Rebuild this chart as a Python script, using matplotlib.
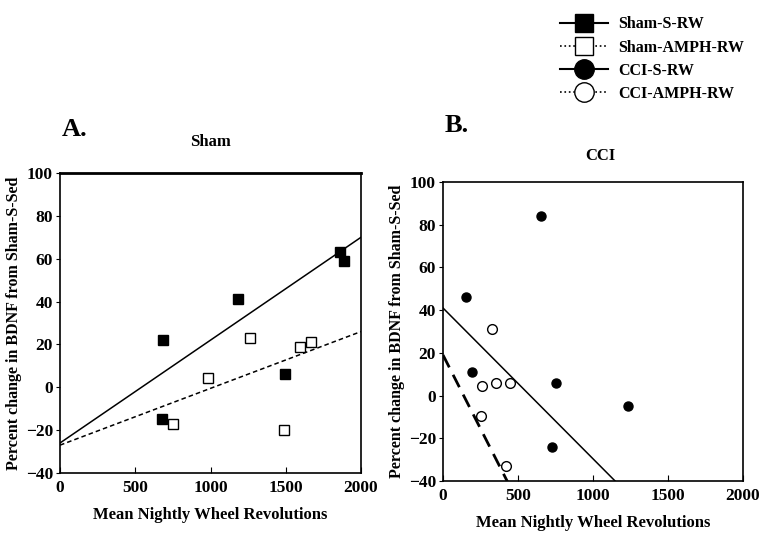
import numpy as np
import matplotlib
matplotlib.use("Agg")
import matplotlib.pyplot as plt
from matplotlib.lines import Line2D

plt.rcParams['font.family'] = ['Liberation Serif', 'DejaVu Serif']
plt.rcParams['font.weight'] = 'bold'

# panel A (Sham)
sham_s_x = [686, 675, 1185, 1498, 1862, 1885]
sham_s_y = [22, -15, 41, 6, 63, 59]
sham_a_x = [752, 983, 1263, 1489, 1598, 1667]
sham_a_y = [-17, 4.5, 23, -20, 19, 21]
# regression lines (intercept, slope)
sham_s_fit = (-26, 0.048)
sham_a_fit = (-27, 0.0265)

# panel B (CCI)
cci_s_x = [151, 191, 656, 756, 727, 1231]
cci_s_y = [46, 11, 84, 6, -24, -5]
cci_a_x = [329, 260, 356, 444, 252, 420]
cci_a_y = [31, 4.5, 6, 6, -9.5, -33]
cci_s_fit = (41, -0.0706)
cci_a_fit = (19, -0.138)

xticks = [0, 500, 1000, 1500, 2000]
yticks = [-40, -20, 0, 20, 40, 60, 80, 100]

fig = plt.figure(figsize=(7.59, 5.37), dpi=100)
W, H = 759, 537
axA = fig.add_axes([60 / W, 1 - 473 / H, 301 / W, 300 / H])
axB = fig.add_axes([443 / W, 1 - 481 / H, 300 / W, 299 / H])


def fitline(ax, fit, x1, style, lw):
    xs = np.array([0, x1])
    ax.plot(xs, fit[0] + fit[1] * xs, color='black', ls=style, lw=lw, zorder=2)


fitline(axA, sham_s_fit, 2000, '-', 1.1)
fitline(axA, sham_a_fit, 2000, (0, (3, 2)), 1.1)
axA.plot(sham_s_x, sham_s_y, 's', color='black', ms=7, ls='none', zorder=3)
axA.plot(sham_a_x, sham_a_y, 's', mfc='white', mec='black', mew=1, ms=6.5, ls='none', zorder=3)

fitline(axB, cci_s_fit, 2000, '-', 1.1)
fitline(axB, cci_a_fit, 2000, (0, (5, 3)), 2)
axB.plot(cci_s_x, cci_s_y, 'o', color='black', ms=6.5, ls='none', zorder=3)
axB.plot(cci_a_x, cci_a_y, 'o', mfc='white', mec='black', mew=1, ms=7, ls='none', zorder=3)

for ax in (axA, axB):
    ax.set_xlim(0, 2000)
    ax.set_ylim(-40, 100)
    ax.set_xticks(xticks)
    ax.set_yticks(yticks)
    ax.tick_params(axis='x', direction='in', length=4, labelsize=12.5, pad=5)
    ax.tick_params(axis='y', direction='out', length=3, labelsize=12.5, pad=2)
    for lab in ax.get_xticklabels() + ax.get_yticklabels():
        lab.set_fontweight('bold')
    for s in ax.spines.values():
        s.set_linewidth(1.2)
    ax.set_xlabel('Mean Nightly Wheel Revolutions', fontsize=12, fontweight='bold', labelpad=8)
    ax.set_ylabel('Percent change in BDNF from Sham-S-Sed', fontsize=11.5, fontweight='bold', labelpad=3)

axA.spines['top'].set_linewidth(2)

fig.text(62 / W, 1 - 130 / H, 'A.', fontsize=19, fontweight='bold', va='center', ha='left')
fig.text(210 / W, 1 - 142 / H, 'Sham', fontsize=12, fontweight='bold', va='center', ha='center')
fig.text(445 / W, 1 - 126 / H, 'B.', fontsize=19, fontweight='bold', va='center', ha='left')
fig.text(600 / W, 1 - 156 / H, 'CCI', fontsize=12, fontweight='bold', va='center', ha='center')

handles = [
    Line2D([], [], color='black', ls='-', lw=1.5, marker='s', ms=13, mfc='black'),
    Line2D([], [], color='black', ls=':', lw=1.2, marker='s', ms=13, mfc='white', mec='black', mew=1),
    Line2D([], [], color='black', ls='-', lw=1.5, marker='o', ms=14, mfc='black'),
    Line2D([], [], color='black', ls=':', lw=1.2, marker='o', ms=14, mfc='white', mec='black', mew=1),
]
labels = ['Sham-S-RW', 'Sham-AMPH-RW', 'CCI-S-RW', 'CCI-AMPH-RW']
fig.legend(handles, labels, loc='upper left', bbox_to_anchor=(546 / W, 1 - 2 / H),
           frameon=False, handlelength=3, labelspacing=0.45, handletextpad=0.6,
           prop={'family': 'Liberation Serif', 'weight': 'bold', 'size': 11.5})

fig.savefig('out.png', dpi=100)
